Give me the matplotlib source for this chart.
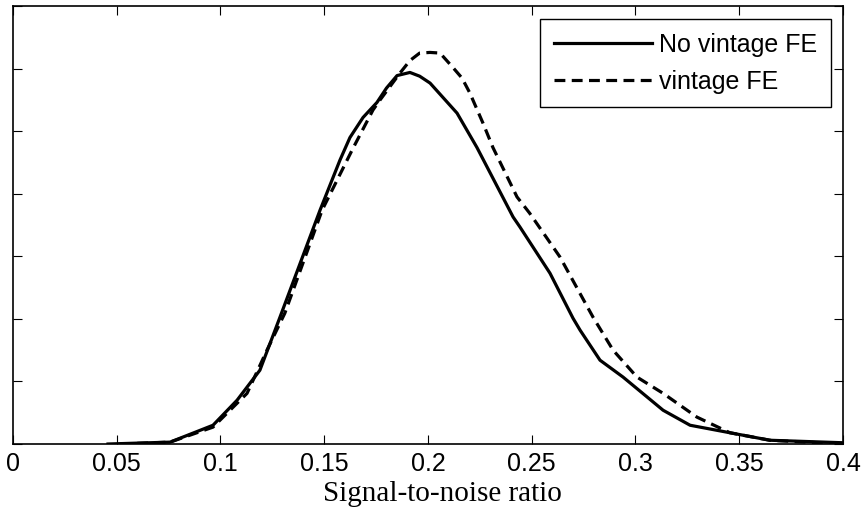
import matplotlib.pyplot as plt
import numpy as np

# Kernel density estimates
x_novint = [0.0458, 0.0757, 0.0964, 0.108, 0.119, 0.1287, 0.148, 0.1576, 0.1624,
            0.1687, 0.1754, 0.180, 0.1851, 0.1913, 0.196, 0.201, 0.214, 0.2236, 0.241,
            0.2443, 0.2588, 0.2699, 0.2733, 0.2829, 0.294, 0.3133, 0.3263, 0.3455,
            0.3648, 0.4]
y_novint = [0.0, 0.03, 0.30, 0.70, 1.18, 2.03, 3.74, 4.54, 4.90,
            5.22, 5.46, 5.69, 5.89, 5.94, 5.88, 5.77, 5.29, 4.74, 3.63,
            3.47, 2.73, 2.01, 1.82, 1.34, 1.07, 0.54, 0.30, 0.18,
            0.06, 0.02]

x_vint = [0.0516, 0.0757, 0.0964, 0.1128, 0.1224, 0.131, 0.149, 0.1639, 0.1735,
          0.1769, 0.1865, 0.1913, 0.196, 0.201, 0.2058, 0.212, 0.2164, 0.2202,
          0.2265, 0.2313, 0.2429, 0.249, 0.2636, 0.2795, 0.2892, 0.3007, 0.3133,
          0.3296, 0.3455, 0.3648, 0.4]
y_vint = [0.0, 0.03, 0.27, 0.81, 1.50, 2.09, 3.74, 4.73, 5.34,
          5.50, 5.93, 6.13, 6.25, 6.26, 6.25, 6.02, 5.85, 5.61,
          5.13, 4.74, 3.95, 3.69, 2.99, 2.03, 1.50, 1.07, 0.81,
          0.43, 0.18, 0.06, 0.0]

xticks = [0, 0.05, 0.1, 0.15, 0.2, 0.25, 0.3, 0.35, 0.4]
xticklabels = ['0', '0.05', '0.1', '0.15', '0.2', '0.25', '0.3', '0.35', '0.4']

plt.rcParams['font.family'] = ['Liberation Sans', 'DejaVu Sans']

fig = plt.figure(figsize=(8.64, 5.12), dpi=100)
ax = fig.add_axes([0.015, 0.1328, 0.9607, 0.8552])

ax.plot(x_novint, y_novint, color='black', lw=2.3, label='No vintage FE')
ax.plot(x_vint, y_vint, color='black', lw=2.3, ls=(0, (3.4, 2.0)), label='vintage FE')

ax.set_xlim(0, 0.4)
ax.set_ylim(0, 7)
ax.set_xticks(xticks)
ax.set_xticklabels(xticklabels, fontsize=18)
ax.set_yticks(np.arange(0, 8, 1))
ax.set_yticklabels([])
ax.tick_params(direction='in', length=6.5, width=0.8, top=True, right=True, pad=6)
for s in ax.spines.values():
    s.set_linewidth(1.2)

ax.set_xlabel('Signal-to-noise ratio', family='Liberation Serif', fontsize=21)
ax.xaxis.set_label_coords(0.517, -0.085)

leg = ax.legend(loc='upper right', bbox_to_anchor=(0.9855, 0.970), borderaxespad=0,
                fontsize=18, handlelength=3.9, handletextpad=0.3, fancybox=False,
                framealpha=1, edgecolor='black', borderpad=0.55, labelspacing=0.5)
leg.get_frame().set_linewidth(1.0)

fig.savefig('out.png', dpi=100)
